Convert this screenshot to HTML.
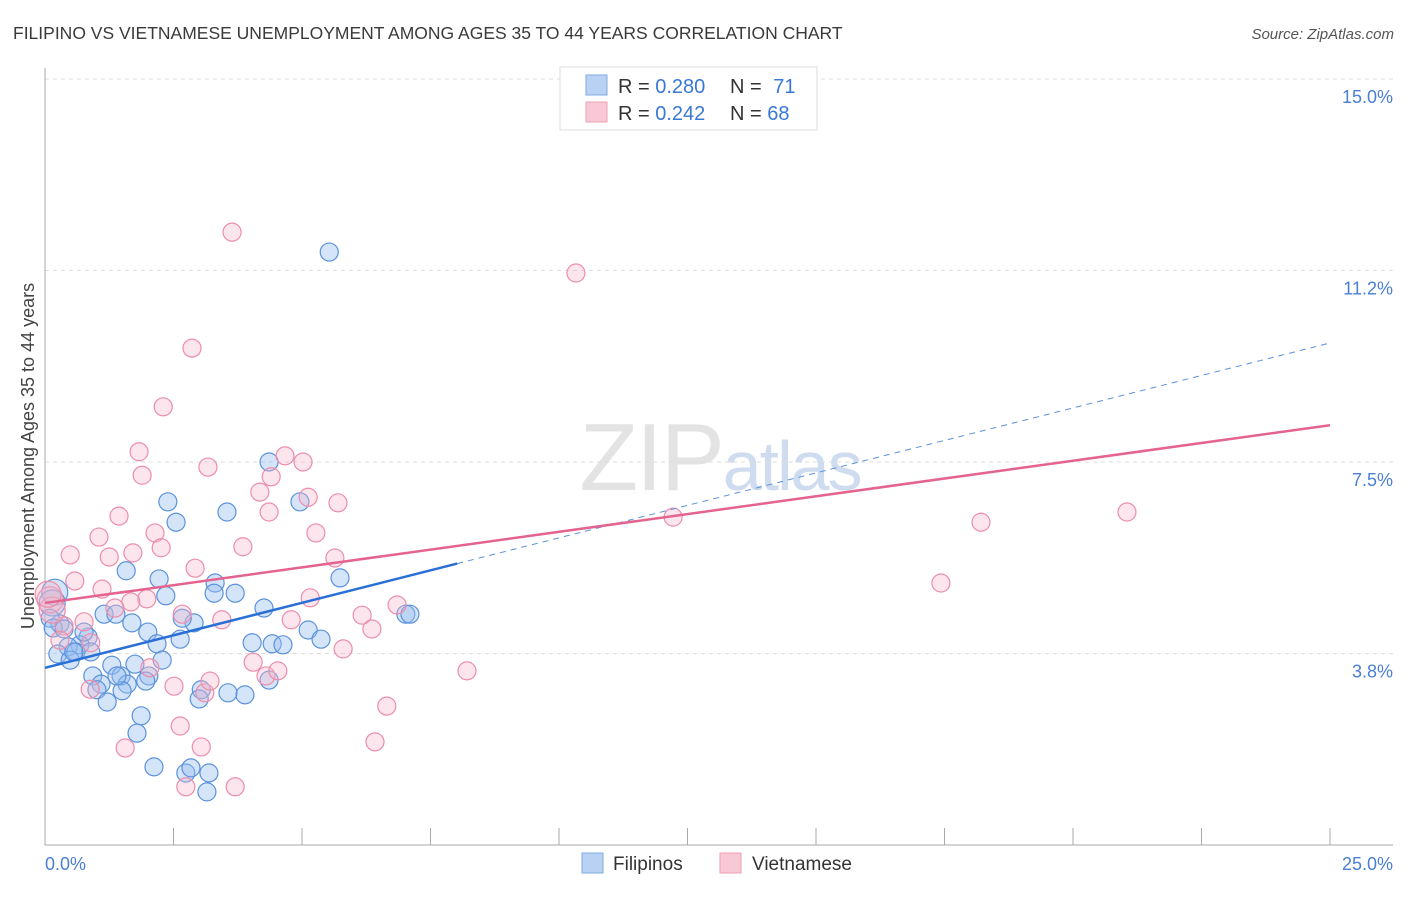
<!DOCTYPE html>
<html><head><meta charset="utf-8"><style>
body{margin:0;background:#fff;font-family:"Liberation Sans",sans-serif}
svg text{font-family:"Liberation Sans",sans-serif}
</style></head><body>
<svg id="chart" width="1406" height="892" viewBox="0 0 1406 892" xmlns="http://www.w3.org/2000/svg">
<text x="13" y="39" font-size="17.5" fill="#3a3a3a">FILIPINO VS VIETNAMESE UNEMPLOYMENT AMONG AGES 35 TO 44 YEARS CORRELATION CHART</text>
<text x="1394" y="39" font-size="15" fill="#555" text-anchor="end" font-style="italic">Source: ZipAtlas.com</text>
<text x="720" y="490" font-size="96" text-anchor="middle" fill="#e3e3e3" font-family="Liberation Serif" letter-spacing="-2">ZIP<tspan fill="#cfdcef" font-family="Liberation Sans" font-size="70">atlas</tspan></text>
<g id="grid"></g>
<g id="axes"></g>
<g id="points"></g>
<g id="lines"></g>
<text transform="translate(34,456) rotate(-90)" font-size="18" fill="#444" text-anchor="middle">Unemployment Among Ages 35 to 44 years</text>
<text x="45" y="870" font-size="18" fill="#4a7fd4">0.0%</text>
<text x="1393" y="870" font-size="18" fill="#4a7fd4" text-anchor="end">25.0%</text>
<g>
<rect x="560" y="67" width="257" height="63" fill="#fff" stroke="#ddd"/>
<rect x="586" y="75" width="21" height="20" fill="#b9d2f3" stroke="#7fa9e3"/>
<rect x="586" y="102" width="21" height="20" fill="#f8c8d6" stroke="#ee9fb6"/>
<text x="618" y="93" font-size="20" fill="#333">R = <tspan fill="#3a78d6">0.280</tspan></text>
<text x="730" y="93" font-size="20" fill="#333">N = <tspan fill="#3a78d6" dx="6">71</tspan></text>
<text x="618" y="120" font-size="20" fill="#333">R = <tspan fill="#3a78d6">0.242</tspan></text>
<text x="730" y="120" font-size="20" fill="#333">N = <tspan fill="#3a78d6">68</tspan></text>
</g>
<g>
<rect x="582" y="853" width="21" height="20" fill="#b9d2f3" stroke="#7fa9e3"/>
<text x="613" y="870" font-size="19" fill="#333">Filipinos</text>
<rect x="720" y="853" width="21" height="20" fill="#f8c8d6" stroke="#ee9fb6"/>
<text x="752" y="870" font-size="19" fill="#333">Vietnamese</text>
</g>
</svg>
<script>
const yTicks=[3.75,7.5,11.25,15];
const yTickLabels=["3.8%","7.5%","11.2%","15.0%"];
const xTicks=[0,2.5,5,7.5,10,12.5,15,17.5,20,22.5,25];
const filX=[5.53,4.36,2.39,4.96,2.55,3.54,1.58,2.22,3.31,5.74,2.35,3.29,3.70,1.15,1.38,4.26,7.02,7.10,1.69,2.00,2.90,2.67,2.63,5.12,5.37,4.03,4.42,4.63,2.18,0.29,0.84,0.68,0.45,0.60,0.89,0.25,0.49,1.30,1.75,2.28,2.02,1.48,0.93,1.09,1.01,1.96,1.60,1.50,1.21,3.04,3.00,3.89,4.36,1.87,1.79,2.12,2.74,2.84,3.19,3.15,0.19,0.14,0.10,0.16,0.37,0.76,0.56,1.40,3.56];
const filY=[11.61,7.50,6.72,6.72,6.32,6.52,5.37,5.21,5.13,5.23,4.88,4.93,4.93,4.52,4.52,4.64,4.52,4.52,4.35,4.17,4.35,4.44,4.03,4.21,4.03,3.96,3.94,3.92,3.94,4.33,4.07,3.92,3.88,3.78,3.78,3.74,3.62,3.52,3.54,3.62,3.31,3.31,3.31,3.15,3.04,3.21,3.15,3.02,2.80,3.04,2.86,2.94,3.23,2.53,2.19,1.53,1.41,1.51,1.41,1.04,4.95,4.74,4.44,4.25,4.23,4.17,3.78,3.31,2.98];
const vieX=[10.29,3.64,10.33,2.86,2.30,1.83,1.89,3.17,4.67,5.02,4.40,5.12,4.18,5.70,1.44,4.36,12.22,18.21,21.05,1.05,2.14,5.27,0.49,1.25,1.71,2.26,3.85,5.64,2.92,0.58,17.43,1.11,1.98,1.67,5.16,1.36,2.67,3.44,4.79,6.17,6.85,6.36,0.76,0.37,0.29,0.89,5.80,4.05,2.04,4.30,4.53,8.21,0.88,2.51,3.11,3.21,6.65,2.63,1.56,3.04,6.42,2.74,3.70,0.10,0.14,0.06];
const vieY=[14.98,12.00,11.20,9.73,8.58,7.70,7.24,7.40,7.62,7.50,7.21,6.81,6.91,6.70,6.44,6.52,6.42,6.32,6.52,6.03,6.11,6.11,5.68,5.64,5.72,5.82,5.84,5.62,5.42,5.17,5.13,5.01,4.82,4.76,4.84,4.64,4.52,4.41,4.41,4.50,4.70,4.23,4.37,4.29,4.01,3.96,3.84,3.58,3.47,3.31,3.41,3.41,3.05,3.11,2.98,3.21,2.72,2.33,1.90,1.92,2.02,1.14,1.14,4.80,4.60,4.91];
const filTrend=[3.47,9.83]; const filSolidEnd=8.02;
const vieTrend=[4.74,8.22];
const NS="http://www.w3.org/2000/svg";
const xs=v=>45+v*51.4, ys=v=>845-v*51.07;
function mk(tag,attrs,parent){const e=document.createElementNS(NS,tag);for(const k in attrs)e.setAttribute(k,attrs[k]);parent.appendChild(e);return e;}
const grid=document.getElementById('grid'),axes=document.getElementById('axes'),pts=document.getElementById('points'),lines=document.getElementById('lines');
yTicks.forEach((t,i)=>{
 const l=mk('line',{x1:45,x2:1393,y1:ys(t),y2:ys(t),stroke:'#dcdcdc','stroke-dasharray':'4,4'},grid);
 
 
 const tx=mk('text',{x:1393,y:ys(t)+24,'font-size':18,fill:'#4a7fd4','text-anchor':'end'},grid);
 tx.textContent=yTickLabels[i];
 
 
});
const ya=mk('line',{x1:45,x2:45,y1:68,y2:845,stroke:'#aaa'},axes);


const xa=mk('line',{x1:45,x2:1393,y1:845,y2:845,stroke:'#aaa'},axes);


xTicks.forEach(t=>{
 const l=mk('line',{x1:xs(t),x2:xs(t),y1:828,y2:845,stroke:'#aaa'},axes);
 
 
});
function big(x,y){return x<0.25&&y>4.5&&y<5;}
filX.forEach((x,i)=>{
 const c=mk('circle',{cx:xs(x),cy:ys(filY[i]),r:big(x,filY[i])?13:9,fill:'rgba(150,190,240,0.4)',stroke:'#5b92dc','stroke-width':1.2},pts);
 
 
});
vieX.forEach((x,i)=>{
 const c=mk('circle',{cx:xs(x),cy:ys(vieY[i]),r:big(x,vieY[i])?13:9,fill:'rgba(245,180,200,0.35)',stroke:'#ec8eab','stroke-width':1.2},pts);
 
 
});
const fy=x=>filTrend[0]+(filTrend[1]-filTrend[0])*x/25;
const l1=mk('line',{x1:xs(0),y1:ys(fy(0)),x2:xs(filSolidEnd),y2:ys(fy(filSolidEnd)),stroke:'#2a6fd6','stroke-width':2.5},lines);


const l2=mk('line',{x1:xs(filSolidEnd),y1:ys(fy(filSolidEnd)),x2:xs(25),y2:ys(fy(25)),stroke:'#5b92dc','stroke-width':1,'stroke-dasharray':'6,5'},lines);


const l3=mk('line',{x1:xs(0),y1:ys(vieTrend[0]),x2:xs(25),y2:ys(vieTrend[1]),stroke:'#e4638f','stroke-width':2.5},lines);


</script>
</body></html>
